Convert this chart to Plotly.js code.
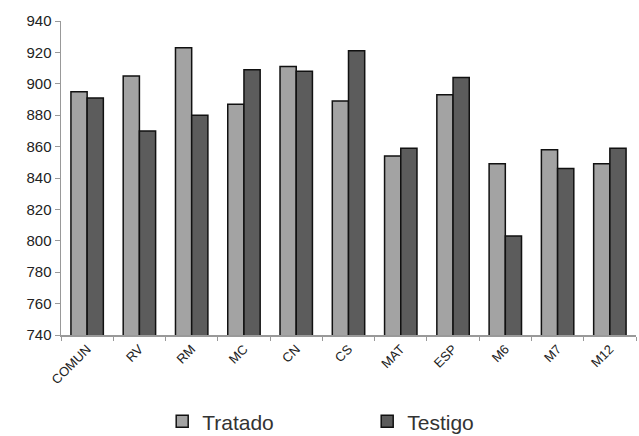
<!DOCTYPE html>
<html>
<head>
<meta charset="utf-8">
<script src="https://cdn.plot.ly/plotly-3.0.1.min.js"></script>
<style>html,body{margin:0;padding:0;background:#fff;}#chart{width:639px;height:436px;}</style>
</head>
<body>
<div id="chart"></div>
<script>
var categories = ["COMUN","RV","RM","MC","CN","CS","MAT","ESP","M6","M7","M12"];
var tratado = [895, 905, 923, 887, 911, 889, 854, 893, 849, 858, 849];
var testigo = [891, 870, 880, 909, 908, 921, 859, 904, 803, 846, 859];
var yTicks = [740, 760, 780, 800, 820, 840, 860, 880, 900, 920, 940];

var traces = [
  {type:"bar", name:"Tratado", x:categories, y:tratado,
   marker:{color:"#a3a3a3", line:{color:"#111", width:1.5}}},
  {type:"bar", name:"Testigo", x:categories, y:testigo,
   marker:{color:"#5c5c5c", line:{color:"#111", width:1.5}}}
];
var layout = {
  width:639, height:436,
  margin:{l:61, r:3, t:21, b:101, autoexpand:false},
  paper_bgcolor:"#fff", plot_bgcolor:"#fff",
  font:{family:"Liberation Sans, Arial, sans-serif", color:"#222"},
  barmode:"group", bargap:0.38, bargroupgap:0,
  showlegend:true,
  legend:{orientation:"h", x:0.176, xanchor:"left", y:-0.276, yanchor:"middle",
          font:{size:21, color:"#333"}, entrywidth:160, itemwidth:30, borderwidth:0},
  xaxis:{type:"category", tickangle:-45, tickfont:{size:13}, showline:true, linecolor:"#999", linewidth:1.5,
         ticks:"outside", ticklen:4, tickcolor:"#999", tickson:"boundaries", showgrid:false, zeroline:false},
  yaxis:{range:[740,940], tickvals:yTicks, tickfont:{size:15}, showline:true, linecolor:"#999", linewidth:1.5,
         ticks:"outside", ticklen:5, tickcolor:"#999", showgrid:false, zeroline:false}
};
Plotly.newPlot("chart", traces, layout, {displayModeBar:false, staticPlot:true});
</script>
</body>
</html>
